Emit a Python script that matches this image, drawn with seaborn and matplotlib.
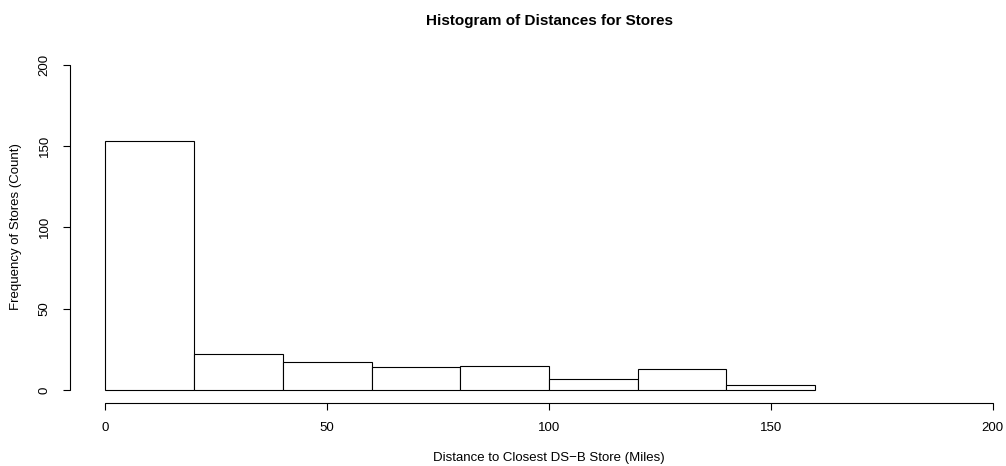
import matplotlib
matplotlib.use("Agg")
import matplotlib.pyplot as plt
import seaborn as sns
import numpy as np
import pandas as pd

# Data
bin_edges = [0, 20, 40, 60, 80, 100, 120, 140, 160]
counts = [153, 22, 17, 14, 15, 7, 13, 3]
x_ticks = [0, 50, 100, 150, 200]
y_ticks = [0, 50, 100, 150, 200]

title = "Histogram of Distances for Stores"
xlabel = "Distance to Closest DS\u2212B Store (Miles)"
ylabel = "Frequency of Stores (Count)"

sns.set_theme(style="white")
plt.rcParams['font.family'] = ['Liberation Sans', 'DejaVu Sans']
plt.rcParams['text.color'] = 'black'
plt.rcParams['axes.labelcolor'] = 'black'
plt.rcParams['xtick.color'] = 'black'
plt.rcParams['ytick.color'] = 'black'

W, H = 1006, 466
fig = plt.figure(figsize=(W / 100, H / 100), dpi=100)
# axes in pixel coords: left 70, right 1028, top 51.7, bottom 403
ax_left, ax_right, ax_top, ax_bottom = 70, 1028, 51.7, 403
ax = fig.add_axes([ax_left / W, (H - ax_bottom) / H,
                   (ax_right - ax_left) / W, (ax_bottom - ax_top) / H])

df = pd.DataFrame({
    "mid": [(a + b) / 2 for a, b in zip(bin_edges[:-1], bin_edges[1:])],
    "count": counts,
})
sns.histplot(data=df, x="mid", weights="count", bins=bin_edges, ax=ax,
             color="white", edgecolor="black", linewidth=0.8, alpha=1)

ax.set_xlim(-8, 208)
ax.set_ylim(-8, 208)
for s in ax.spines.values():
    s.set_visible(False)

# R-style axes: lines spanning tick range, offset outward
ax.set_xticks(x_ticks)
ax.set_yticks(y_ticks)
ax.set_xticklabels([str(t) for t in x_ticks], fontsize=9.5)
ax.set_yticklabels([str(t) for t in y_ticks], fontsize=9.5, rotation=90, va="center")
ax.tick_params(axis="both", length=5, width=0.8, color="black", direction="out",
               pad=9, labelcolor="black", bottom=True, left=True)
ax.plot([0, 200], [-8, -8], color="black", lw=0.8, clip_on=False,
        transform=ax.transData)
ax.plot([-8, -8], [0, 200], color="black", lw=0.8, clip_on=False,
        transform=ax.transData)

ax.set_xlabel("")
ax.set_ylabel("")
fig.text((ax_left + ax_right) / 2 / W, 1 - 21 / H, title, ha="center",
         va="center", fontsize=11, fontweight="bold", color="black")
fig.text((ax_left + ax_right) / 2 / W, 1 - 458 / H, xlabel, ha="center",
         va="center", fontsize=9.5, color="black")
fig.text(16 / W, (H - 227) / H, ylabel, ha="center", va="center",
         fontsize=9.5, rotation=90, color="black")

fig.savefig("out.png", dpi=100, facecolor="white")
